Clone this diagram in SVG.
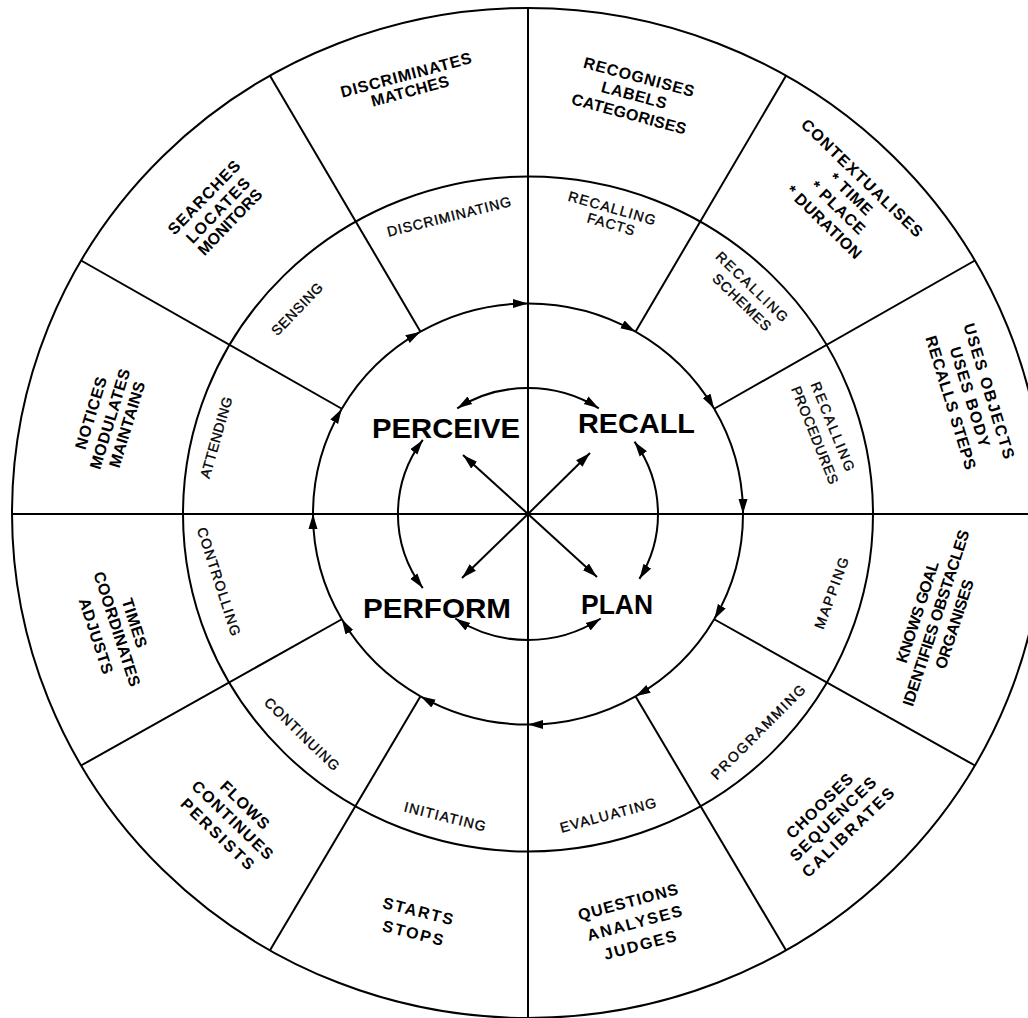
<svg xmlns="http://www.w3.org/2000/svg" width="1028" height="1018" viewBox="0 0 1028 1018">
<style>
.ln{fill:none;stroke:#000;stroke-width:2}
.ar{fill:none;stroke:#000;stroke-width:2;marker-end:url(#ah)}
.da{fill:none;stroke:#000;stroke-width:2;marker-start:url(#ah);marker-end:url(#ah)}
text{font-family:"Liberation Sans",Arial,Helvetica,sans-serif;fill:#000;text-anchor:middle}
.o{font-size:16px;font-weight:bold}
.m{font-size:14px;font-weight:normal;stroke:#000;stroke-width:0.35}
.b{font-size:28px;font-weight:bold}
</style>
<defs>
<marker id="ah" viewBox="0 0 15 10" refX="15" refY="5" markerWidth="15" markerHeight="10" markerUnits="userSpaceOnUse" orient="auto-start-reverse"><path d="M0,0.5 L15,5 L0,9.5 z" fill="#000"/></marker>
</defs>
<rect width="1028" height="1018" fill="#fff"/>
<g id="frame">
<ellipse class="ln" cx="528" cy="513" rx="516" ry="505"/>
<ellipse class="ln" cx="528" cy="514" rx="345" ry="337.5"/>
<line class="ln" x1="528" y1="8" x2="528" y2="1018"/>
<line class="ln" x1="12" y1="514" x2="1028" y2="514"/>
<line class="ln" x1="635.5" y1="331.7" x2="786" y2="75.7"/>
<line class="ln" x1="714.2" y1="408.75" x2="974.9" y2="260.5"/>
<line class="ln" x1="714.2" y1="619.25" x2="974.9" y2="765.5"/>
<line class="ln" x1="635.5" y1="696.3" x2="786" y2="950.3"/>
<line class="ln" x1="420.5" y1="696.3" x2="270" y2="950.3"/>
<line class="ln" x1="341.8" y1="619.25" x2="81.1" y2="765.5"/>
<line class="ln" x1="341.8" y1="408.75" x2="81.1" y2="260.5"/>
<line class="ln" x1="420.5" y1="331.7" x2="270" y2="75.7"/>
</g>
<g id="connectors">
<path class="ar" d="M528,303.5 A215,210.5 0 0 1 635.5,331.7"/>
<path class="ar" d="M635.5,331.7 A215,210.5 0 0 1 714.2,408.75"/>
<path class="ar" d="M714.2,408.75 A215,210.5 0 0 1 743,514"/>
<path class="ar" d="M743,514 A215,210.5 0 0 1 714.2,619.25"/>
<path class="ar" d="M714.2,619.25 A215,210.5 0 0 1 635.5,696.3"/>
<path class="ar" d="M635.5,696.3 A215,210.5 0 0 1 528,724.5"/>
<path class="ar" d="M528,724.5 A215,210.5 0 0 1 420.5,696.3"/>
<path class="ar" d="M420.5,696.3 A215,210.5 0 0 1 341.8,619.25"/>
<path class="ar" d="M341.8,619.25 A215,210.5 0 0 1 313,514"/>
<path class="ar" d="M313,514 A215,210.5 0 0 1 341.8,408.75"/>
<path class="ar" d="M341.8,408.75 A215,210.5 0 0 1 420.5,331.7"/>
<path class="ar" d="M420.5,331.7 A215,210.5 0 0 1 528,303.5"/>
<path class="ar" d="M528,514 L463,455"/>
<path class="ar" d="M528,514 L590,453"/>
<path class="ar" d="M528,514 L462,578"/>
<path class="ar" d="M528,514 L597,577"/>
<path class="da" d="M457.2,408.3 A130,126 0 0 1 598.8,408.3"/>
<path class="da" d="M634.5,441.7 A130,126 0 0 1 639.4,578.9"/>
<path class="da" d="M600.7,618.5 A130,126 0 0 1 455.3,618.5"/>
<path class="da" d="M422.8,588.1 A130,126 0 0 1 422.8,439.9"/>
</g>
<g id="perceive"><text class="b" x="446" y="438" textLength="148" lengthAdjust="spacingAndGlyphs">PERCEIVE</text></g>
<g id="recall"><text class="b" x="636.5" y="433" textLength="117" lengthAdjust="spacingAndGlyphs">RECALL</text></g>
<g id="perform"><text class="b" x="437" y="618" textLength="148" lengthAdjust="spacingAndGlyphs">PERFORM</text></g>
<g id="plan"><text class="b" x="617" y="614" textLength="72" lengthAdjust="spacingAndGlyphs">PLAN</text></g>
<g id="outer-recognises">
<text class="o" transform="translate(639 77) rotate(15)" y="5.5" textLength="114">RECOGNISES</text>
<text class="o" transform="translate(634 95) rotate(15)" y="5.5" textLength="67">LABELS</text>
<text class="o" transform="translate(629 114) rotate(15)" y="5.5" textLength="118">CATEGORISES</text>
</g>
<g id="outer-contextualises">
<text class="o" transform="translate(862 178) rotate(44)" y="5.5" textLength="162">CONTEXTUALISES</text>
<text class="o" transform="translate(851 194) rotate(44)" y="5.5" textLength="53">* TIME</text>
<text class="o" transform="translate(838 207.5) rotate(44)" y="5.5" textLength="69">* PLACE</text>
<text class="o" transform="translate(824 222) rotate(44)" y="5.5" textLength="98">* DURATION</text>
</g>
<g id="outer-uses">
<text class="o" transform="translate(989 391) rotate(73)" y="5.5" textLength="141">USES OBJECTS</text>
<text class="o" transform="translate(970 396.8) rotate(73)" y="5.5" textLength="104">USES BODY</text>
<text class="o" transform="translate(950.8 402.7) rotate(73)" y="5.5" textLength="139">RECALLS STEPS</text>
</g>
<g id="outer-knows">
<text class="o" transform="translate(917.5 612) rotate(-72)" y="5.5" textLength="106">KNOWS GOAL</text>
<text class="o" transform="translate(936 618) rotate(-72)" y="5.5" textLength="184">IDENTIFIES OBSTACLES</text>
<text class="o" transform="translate(954.5 624) rotate(-72)" y="5.5" textLength="93">ORGANISES</text>
</g>
<g id="outer-chooses">
<text class="o" transform="translate(819.5 806) rotate(-44)" y="5.5" textLength="86">CHOOSES</text>
<text class="o" transform="translate(833 819) rotate(-44)" y="5.5" textLength="113">SEQUENCES</text>
<text class="o" transform="translate(848 832.5) rotate(-44)" y="5.5" textLength="121">CALIBRATES</text>
</g>
<g id="outer-questions">
<text class="o" transform="translate(628 902) rotate(-15)" y="5.5" textLength="103">QUESTIONS</text>
<text class="o" transform="translate(634.5 923) rotate(-15)" y="5.5" textLength="97.5">ANALYSES</text>
<text class="o" transform="translate(640 945) rotate(-15)" y="5.5" textLength="74.5">JUDGES</text>
</g>
<g id="outer-starts">
<text class="o" transform="translate(418 911) rotate(14)" y="5.5" textLength="72">STARTS</text>
<text class="o" transform="translate(413 933) rotate(14)" y="5.5" textLength="62">STOPS</text>
</g>
<g id="outer-flows">
<text class="o" transform="translate(245 805) rotate(44)" y="5.5" textLength="61.5">FLOWS</text>
<text class="o" transform="translate(232.5 820) rotate(44)" y="5.5" textLength="106">CONTINUES</text>
<text class="o" transform="translate(217.5 834) rotate(44)" y="5.5" textLength="95">PERSISTS</text>
</g>
<g id="outer-times">
<text class="o" transform="translate(134.5 623) rotate(72)" y="5.5" textLength="51">TIMES</text>
<text class="o" transform="translate(117 629) rotate(72)" y="5.5" textLength="120">COORDINATES</text>
<text class="o" transform="translate(96 636) rotate(72)" y="5.5" textLength="79">ADJUSTS</text>
</g>
<g id="outer-notices">
<text class="o" transform="translate(91 413) rotate(-73)" y="5.5" textLength="75">NOTICES</text>
<text class="o" transform="translate(110 419) rotate(-73)" y="5.5" textLength="104">MODULATES</text>
<text class="o" transform="translate(127 424.5) rotate(-73)" y="5.5" textLength="89">MAINTAINS</text>
</g>
<g id="outer-searches">
<text class="o" transform="translate(204 197.5) rotate(-46)" y="5.5" textLength="96">SEARCHES</text>
<text class="o" transform="translate(218 210.5) rotate(-46)" y="5.5" textLength="84">LOCATES</text>
<text class="o" transform="translate(230 222) rotate(-46)" y="5.5" textLength="85">MONITORS</text>
</g>
<g id="outer-discriminates">
<text class="o" transform="translate(406 75) rotate(-15)" y="5.5" textLength="135">DISCRIMINATES</text>
<text class="o" transform="translate(410 91) rotate(-15)" y="5.5" textLength="80">MATCHES</text>
</g>
<g id="mid-facts">
<text class="m" transform="translate(612 208) rotate(16)" y="5" textLength="90">RECALLING</text>
<text class="m" transform="translate(611 224) rotate(16)" y="5" textLength="48.6">FACTS</text>
</g>
<g id="mid-schemes">
<text class="m" transform="translate(752 286.5) rotate(44)" y="5" textLength="94">RECALLING</text>
<text class="m" transform="translate(742 302) rotate(44)" y="5" textLength="75">SCHEMES</text>
</g>
<g id="mid-procedures">
<text class="m" transform="translate(833 426.5) rotate(68)" y="5" textLength="95">RECALLING</text>
<text class="m" transform="translate(815 435) rotate(68)" y="5" textLength="104">PROCEDURES</text>
</g>
<g id="mid-mapping"><text class="m" transform="translate(831.5 593) rotate(-70)" y="5" textLength="75">MAPPING</text></g>
<g id="mid-programming"><text class="m" transform="translate(758 732) rotate(-45)" y="5" textLength="127">PROGRAMMING</text></g>
<g id="mid-evaluating"><text class="m" transform="translate(608 815) rotate(-15)" y="5" textLength="99">EVALUATING</text></g>
<g id="mid-initiating"><text class="m" transform="translate(445 816.5) rotate(14)" y="5" textLength="83.6">INITIATING</text></g>
<g id="mid-continuing"><text class="m" transform="translate(302 734) rotate(44)" y="5" textLength="98">CONTINUING</text></g>
<g id="mid-controlling"><text class="m" transform="translate(219 581.5) rotate(72)" y="5" textLength="113">CONTROLLING</text></g>
<g id="mid-attending"><text class="m" transform="translate(216 437.5) rotate(-74)" y="5" textLength="84">ATTENDING</text></g>
<g id="mid-sensing"><text class="m" transform="translate(297 309) rotate(-46)" y="5" textLength="67">SENSING</text></g>
<g id="mid-discriminating"><text class="m" transform="translate(449 216.5) rotate(-14)" y="5" textLength="127">DISCRIMINATING</text></g>
</svg>
